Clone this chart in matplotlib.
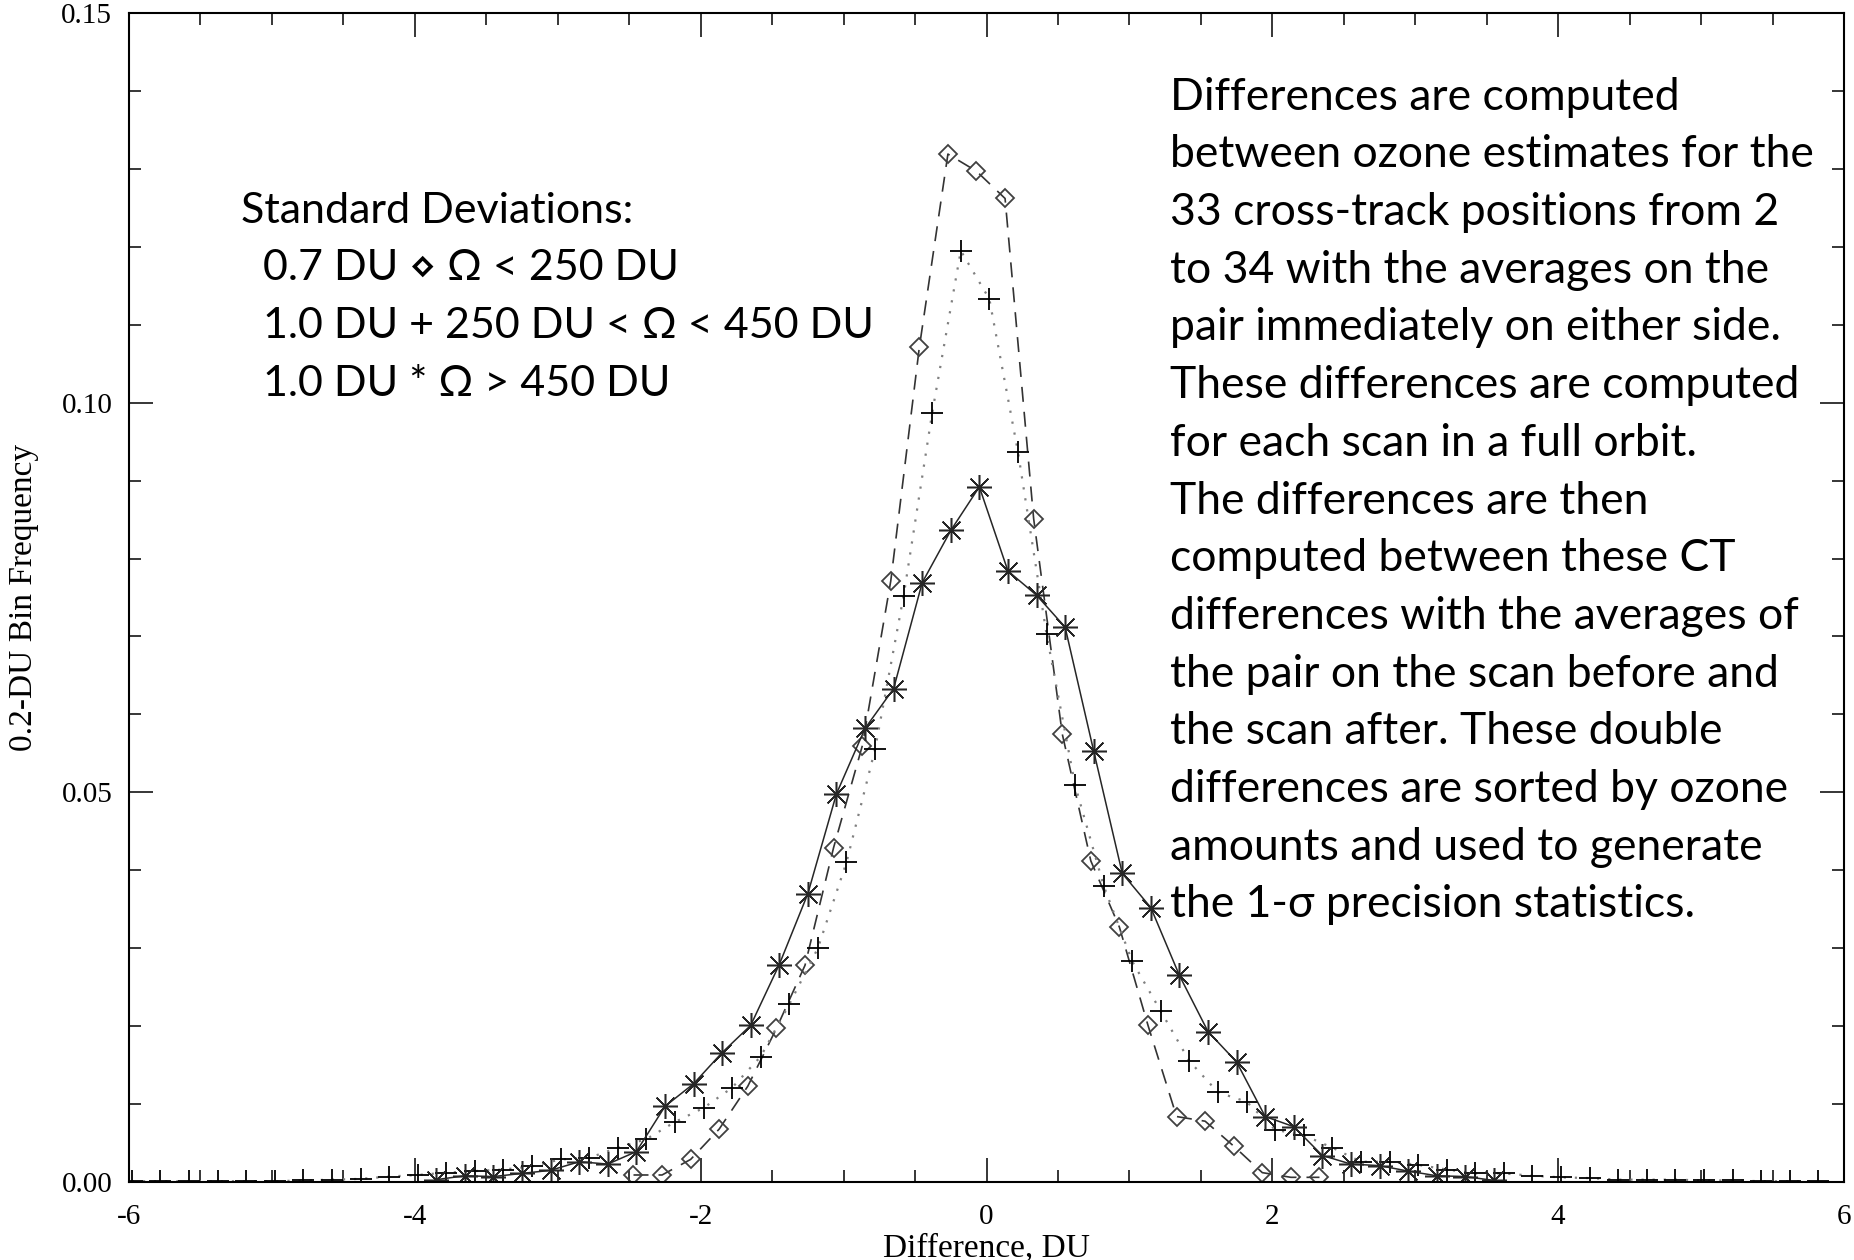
import matplotlib
matplotlib.use("Agg")
import matplotlib.pyplot as plt
from matplotlib.ticker import MultipleLocator

# bin centres (DU) and 0.2-DU bin frequencies
dia_x = [-2.47, -2.27, -2.07, -1.87, -1.67, -1.47, -1.27, -1.07, -0.87, -0.67,
         -0.47, -0.27, -0.07, 0.13, 0.33, 0.53, 0.73, 0.93, 1.13, 1.33,
         1.53, 1.73, 1.93, 2.13, 2.33]
dia_y = [0.0009, 0.0009, 0.0029, 0.0068, 0.0123, 0.0197, 0.0278, 0.0429, 0.0559, 0.0771,
         0.1071, 0.1319, 0.1297, 0.1262, 0.0851, 0.0575, 0.0412, 0.0327, 0.0201, 0.0084,
         0.0078, 0.0046, 0.0012, 0.0006, 0.0006]

plus_x = [-5.98, -5.78, -5.58, -5.38, -5.18, -4.98, -4.78, -4.58, -4.38, -4.18,
          -3.98, -3.78, -3.58, -3.38, -3.18, -2.98, -2.78, -2.58, -2.38, -2.18,
          -1.98, -1.78, -1.58, -1.38, -1.18, -0.98, -0.78, -0.58, -0.38, -0.18,
          0.02, 0.22, 0.42, 0.62, 0.82, 1.02, 1.22, 1.42, 1.62, 1.82,
          2.02, 2.22, 2.42, 2.62, 2.82, 3.02, 3.22, 3.42, 3.62, 3.82,
          4.02, 4.22, 4.42, 4.62, 4.82, 5.02, 5.22, 5.42, 5.62, 5.82]
plus_y = [0.0001, 0.0001, 0.0001, 0.0001, 0.0001, 0.0001, 0.0002, 0.0003, 0.0004, 0.0007,
          0.0009, 0.0012, 0.0014, 0.0016, 0.0020, 0.0029, 0.0031, 0.0044, 0.0055, 0.0077,
          0.0095, 0.0121, 0.0161, 0.0228, 0.0300, 0.0410, 0.0555, 0.0752, 0.0987, 0.1195,
          0.1133, 0.0937, 0.0703, 0.0509, 0.0380, 0.0283, 0.0219, 0.0155, 0.0115, 0.0103,
          0.0067, 0.0060, 0.0044, 0.0026, 0.0026, 0.0022, 0.0016, 0.0011, 0.0011, 0.0008,
          0.0006, 0.0005, 0.0003, 0.0003, 0.0003, 0.0002, 0.0002, 0.0001, 0.0001, 0.0001]

star_x = [-3.85, -3.65, -3.45, -3.25, -3.05, -2.85, -2.65, -2.45, -2.25, -2.05,
          -1.85, -1.65, -1.45, -1.25, -1.05, -0.85, -0.65, -0.45, -0.25, -0.05,
          0.15, 0.35, 0.55, 0.75, 0.95, 1.15, 1.35, 1.55, 1.75, 1.95,
          2.15, 2.35, 2.55, 2.75, 2.95, 3.15, 3.35, 3.55]
star_y = [0.0003, 0.0008, 0.0007, 0.0011, 0.0015, 0.0026, 0.0023, 0.0039, 0.0097, 0.0126,
          0.0166, 0.0201, 0.0279, 0.0370, 0.0498, 0.0582, 0.0633, 0.0769, 0.0836, 0.0892,
          0.0784, 0.0753, 0.0712, 0.0553, 0.0396, 0.0352, 0.0265, 0.0193, 0.0154, 0.0084,
          0.0071, 0.0034, 0.0023, 0.0021, 0.0014, 0.0008, 0.0007, 0.0002]

legend_lines = ["Standard Deviations:",
                "  0.7 DU \u22c4 \u03a9 < 250 DU",
                "  1.0 DU + 250 DU < \u03a9 < 450 DU",
                "  1.0 DU * \u03a9 > 450 DU"]

note_lines = ["Differences are computed",
              "between ozone estimates for the",
              "33 cross-track positions from 2",
              "to 34 with the averages on the",
              "pair immediately on either side.",
              "These differences are computed",
              "for each scan in a full orbit.",
              "The differences are then",
              "computed between these CT",
              "differences with the averages of",
              "the pair on the scan before and",
              "the scan after. These double",
              "differences are sorted by ozone",
              "amounts and used to generate",
              "the 1-\u03c3 precision statistics."]

W, H = 1854, 1260
fig = plt.figure(figsize=(W / 100, H / 100), dpi=100)
ax = fig.add_axes([129 / W, 1 - 1182 / H, (1844 - 129) / W, (1182 - 13) / H])

ax.plot(dia_x, dia_y, color="0.2", lw=1.2, dashes=(9, 6),
        marker="D", ms=9, mfc="none", mec="0.25", mew=1.3)
ax.plot(plus_x, plus_y, color="0.5", lw=1.6, linestyle=(0, (1, 4)),
        marker="+", ms=16, mec="black", mew=1.3)
ax.plot(star_x, star_y, color="0.15", lw=1.1,
        marker=(8, 2, 0), ms=18, mec="0.15", mew=1.1)

ax.set_xlim(-6, 6)
ax.set_ylim(0, 0.15)
ax.xaxis.set_major_locator(MultipleLocator(2))
ax.xaxis.set_minor_locator(MultipleLocator(0.5))
ax.yaxis.set_major_locator(MultipleLocator(0.05))
ax.yaxis.set_minor_locator(MultipleLocator(0.01))
ax.yaxis.set_major_formatter(matplotlib.ticker.FormatStrFormatter("%.2f"))
ax.xaxis.set_major_formatter(matplotlib.ticker.FormatStrFormatter("%d"))

serif = "Liberation Serif"
ax.tick_params(which="both", direction="in", top=True, right=True, width=1.1)
ax.tick_params(which="major", length=17)
ax.tick_params(which="minor", length=8.5)
ax.tick_params(axis="x", pad=16)
ax.tick_params(axis="y", pad=12)
for lab in ax.get_xticklabels() + ax.get_yticklabels():
    lab.set_fontfamily(serif)
    lab.set_fontsize(21)
for s in ax.spines.values():
    s.set_linewidth(1.5)

fig.text(987 / W, 1 - 1248 / H, "Difference, DU", family=serif, fontsize=24,
         ha="center", va="center")
fig.text(24 / W, 1 - 597 / H, "0.2-DU Bin Frequency", family=serif, fontsize=24,
         rotation=90, ha="center", va="center")

fonts = ["Lato", "DejaVu Sans"]
for i, line in enumerate(legend_lines):
    fig.text(241 / W, 1 - (208 + 15 + i * 57.5) / H, line, family=fonts,
             fontsize=31, ha="left", va="baseline")
for i, line in enumerate(note_lines):
    fig.text(1170 / W, 1 - (94.6 + 15 + i * 57.7) / H, line, family=fonts,
             fontsize=32, ha="left", va="baseline")

fig.savefig("out.png", dpi=100)
